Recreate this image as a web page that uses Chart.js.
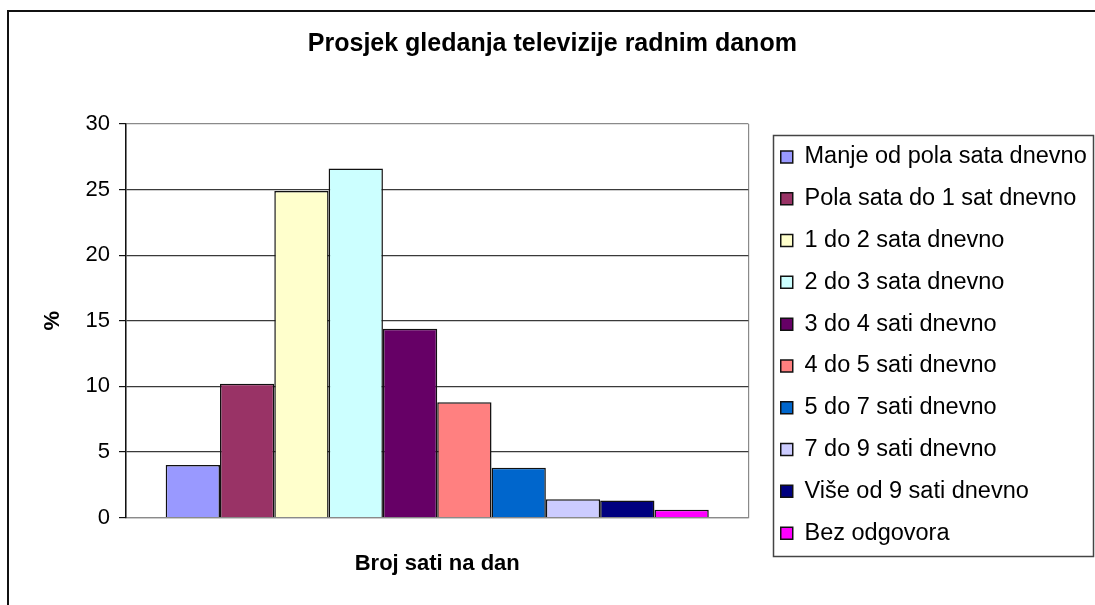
<!DOCTYPE html>
<html>
<head>
<meta charset="utf-8">
<script src="https://cdn.jsdelivr.net/npm/chart.js@4"></script>
<style>
  html, body { margin: 0; padding: 0; background: #fff; }
  #wrap { width: 1095px; height: 605px; position: relative; }
</style>
</head>
<body>
<div id="wrap"><canvas id="c" width="1095" height="605"></canvas></div>
<script>
const categories = [''];
const seriesLabels = [
  'Manje od pola sata dnevno',
  'Pola sata do 1 sat dnevno',
  '1 do 2 sata dnevno',
  '2 do 3 sata dnevno',
  '3 do 4 sati dnevno',
  '4 do 5 sati dnevno',
  '5 do 7 sati dnevno',
  '7 do 9 sati dnevno',
  'Više od 9 sati dnevno',
  'Bez odgovora'
];
const seriesValues = [4.0, 10.2, 24.9, 26.6, 14.4, 8.8, 3.8, 1.4, 1.3, 0.6];
const seriesColors = ['#9999FF', '#993366', '#FFFFCC', '#CCFFFF', '#660066', '#FF8080', '#0066CC', '#CCCCFF', '#000080', '#FF00FF'];
const yTickValues = [0, 5, 10, 15, 20, 25, 30];
const chartTitle = 'Prosjek gledanja televizije radnim danom';
const xTitle = 'Broj sati na dan';
const yTitle = '%';

const FONT = "'Liberation Sans', Arial, Helvetica, sans-serif";

const datasets = seriesLabels.map((label, i) => ({
  label: label,
  data: [seriesValues[i]],
  backgroundColor: seriesColors[i],
  borderColor: '#111111',
  borderWidth: 1.5,
  categoryPercentage: 0.8725,
  barPercentage: 1.0,
  yAxisID: 'y'
}));

const framePlugin = {
  id: 'framePlugin',
  beforeDraw(chart) {
    const ctx = chart.ctx;
    ctx.save();
    ctx.fillStyle = '#ffffff';
    ctx.fillRect(0, 0, chart.width, chart.height);
    ctx.strokeStyle = '#111111';
    ctx.lineWidth = 2;
    ctx.beginPath();
    ctx.moveTo(8, chart.height + 2);
    ctx.lineTo(8, 11);
    ctx.lineTo(chart.width + 2, 11);
    ctx.stroke();
    ctx.restore();
  },
  afterDraw(chart) {
    const lg = chart.legend;
    if (!lg || !lg.legendHitBoxes || !lg.legendHitBoxes.length) return;
    const hb = lg.legendHitBoxes;
    const first = hb[0], last = hb[hb.length - 1];
    const x0 = Math.round(first.left - 8) + 0.5;
    const y0 = Math.round(first.top + first.height / 2 - 22) + 0.5;
    const y1 = Math.round(last.top + last.height / 2 + 23) + 0.5;
    const x1 = chart.width - 1.5;
    const ctx = chart.ctx;
    ctx.save();
    ctx.strokeStyle = '#444444';
    ctx.lineWidth = 1.5;
    ctx.strokeRect(x0, y0, x1 - x0, y1 - y0);
    ctx.restore();
  }
};

new Chart(document.getElementById('c'), {
  type: 'bar',
  data: { labels: categories, datasets: datasets },
  plugins: [framePlugin],
  options: {
    responsive: false,
    animation: false,
    devicePixelRatio: 1,
    layout: { padding: { left: 8, right: -1.7, top: 0, bottom: 0 } },
    plugins: {
      tooltip: { enabled: false },
      title: {
        display: true,
        text: chartTitle,
        color: '#000',
        font: { family: FONT, size: 25, weight: 'bold' },
        padding: { top: 29, bottom: 65 }
      },
      legend: {
        display: true,
        position: 'right',
        align: 'start',
        maxWidth: 400,
        title: { display: true, text: '', font: { size: 12 }, padding: { top: 112.5, bottom: 0 } },
        labels: {
          color: '#000',
          font: { family: FONT, size: 23.5 },
          boxWidth: 12,
          boxHeight: 12,
          padding: 18.3
        }
      }
    },
    scales: {
      x: {
        grid: { display: true, color: '#8a8a8a', drawTicks: false, lineWidth: 1.2 },
        border: { display: true, color: '#8a8a8a', width: 1.2 },
        ticks: { display: false },
        title: {
          display: true,
          text: xTitle,
          color: '#000',
          font: { family: FONT, size: 22, weight: 'bold' },
          padding: { top: 33, bottom: 28 }
        }
      },
      y: {
        min: 0,
        max: 30,
        afterBuildTicks(scale) { scale.ticks = yTickValues.map(v => ({ value: v })); },
        afterFit(scale) { scale.width = 118; },
        grid: {
          color: (c) => (c.tick && (c.tick.value === 0 || c.tick.value === 30)) ? '#8a8a8a' : '#3a3a3a',
          tickColor: '#111',
          tickLength: 7,
          lineWidth: 1.2
        },
        border: { display: true, color: '#111', width: 1.5 },
        ticks: {
          color: '#000',
          font: { family: FONT, size: 22 },
          padding: 9
        },
        title: {
          display: true,
          text: yTitle,
          color: '#000',
          font: { family: FONT, size: 22, weight: 'bold' },
          padding: { top: 31.8, bottom: 0 }
        }
      },
      gap: {
        type: 'linear',
        position: 'right',
        display: true,
        grid: { display: false },
        border: { display: false },
        ticks: { display: false },
        afterFit(scale) { scale.width = 14; }
      }
    }
  }
});
</script>
</body>
</html>
